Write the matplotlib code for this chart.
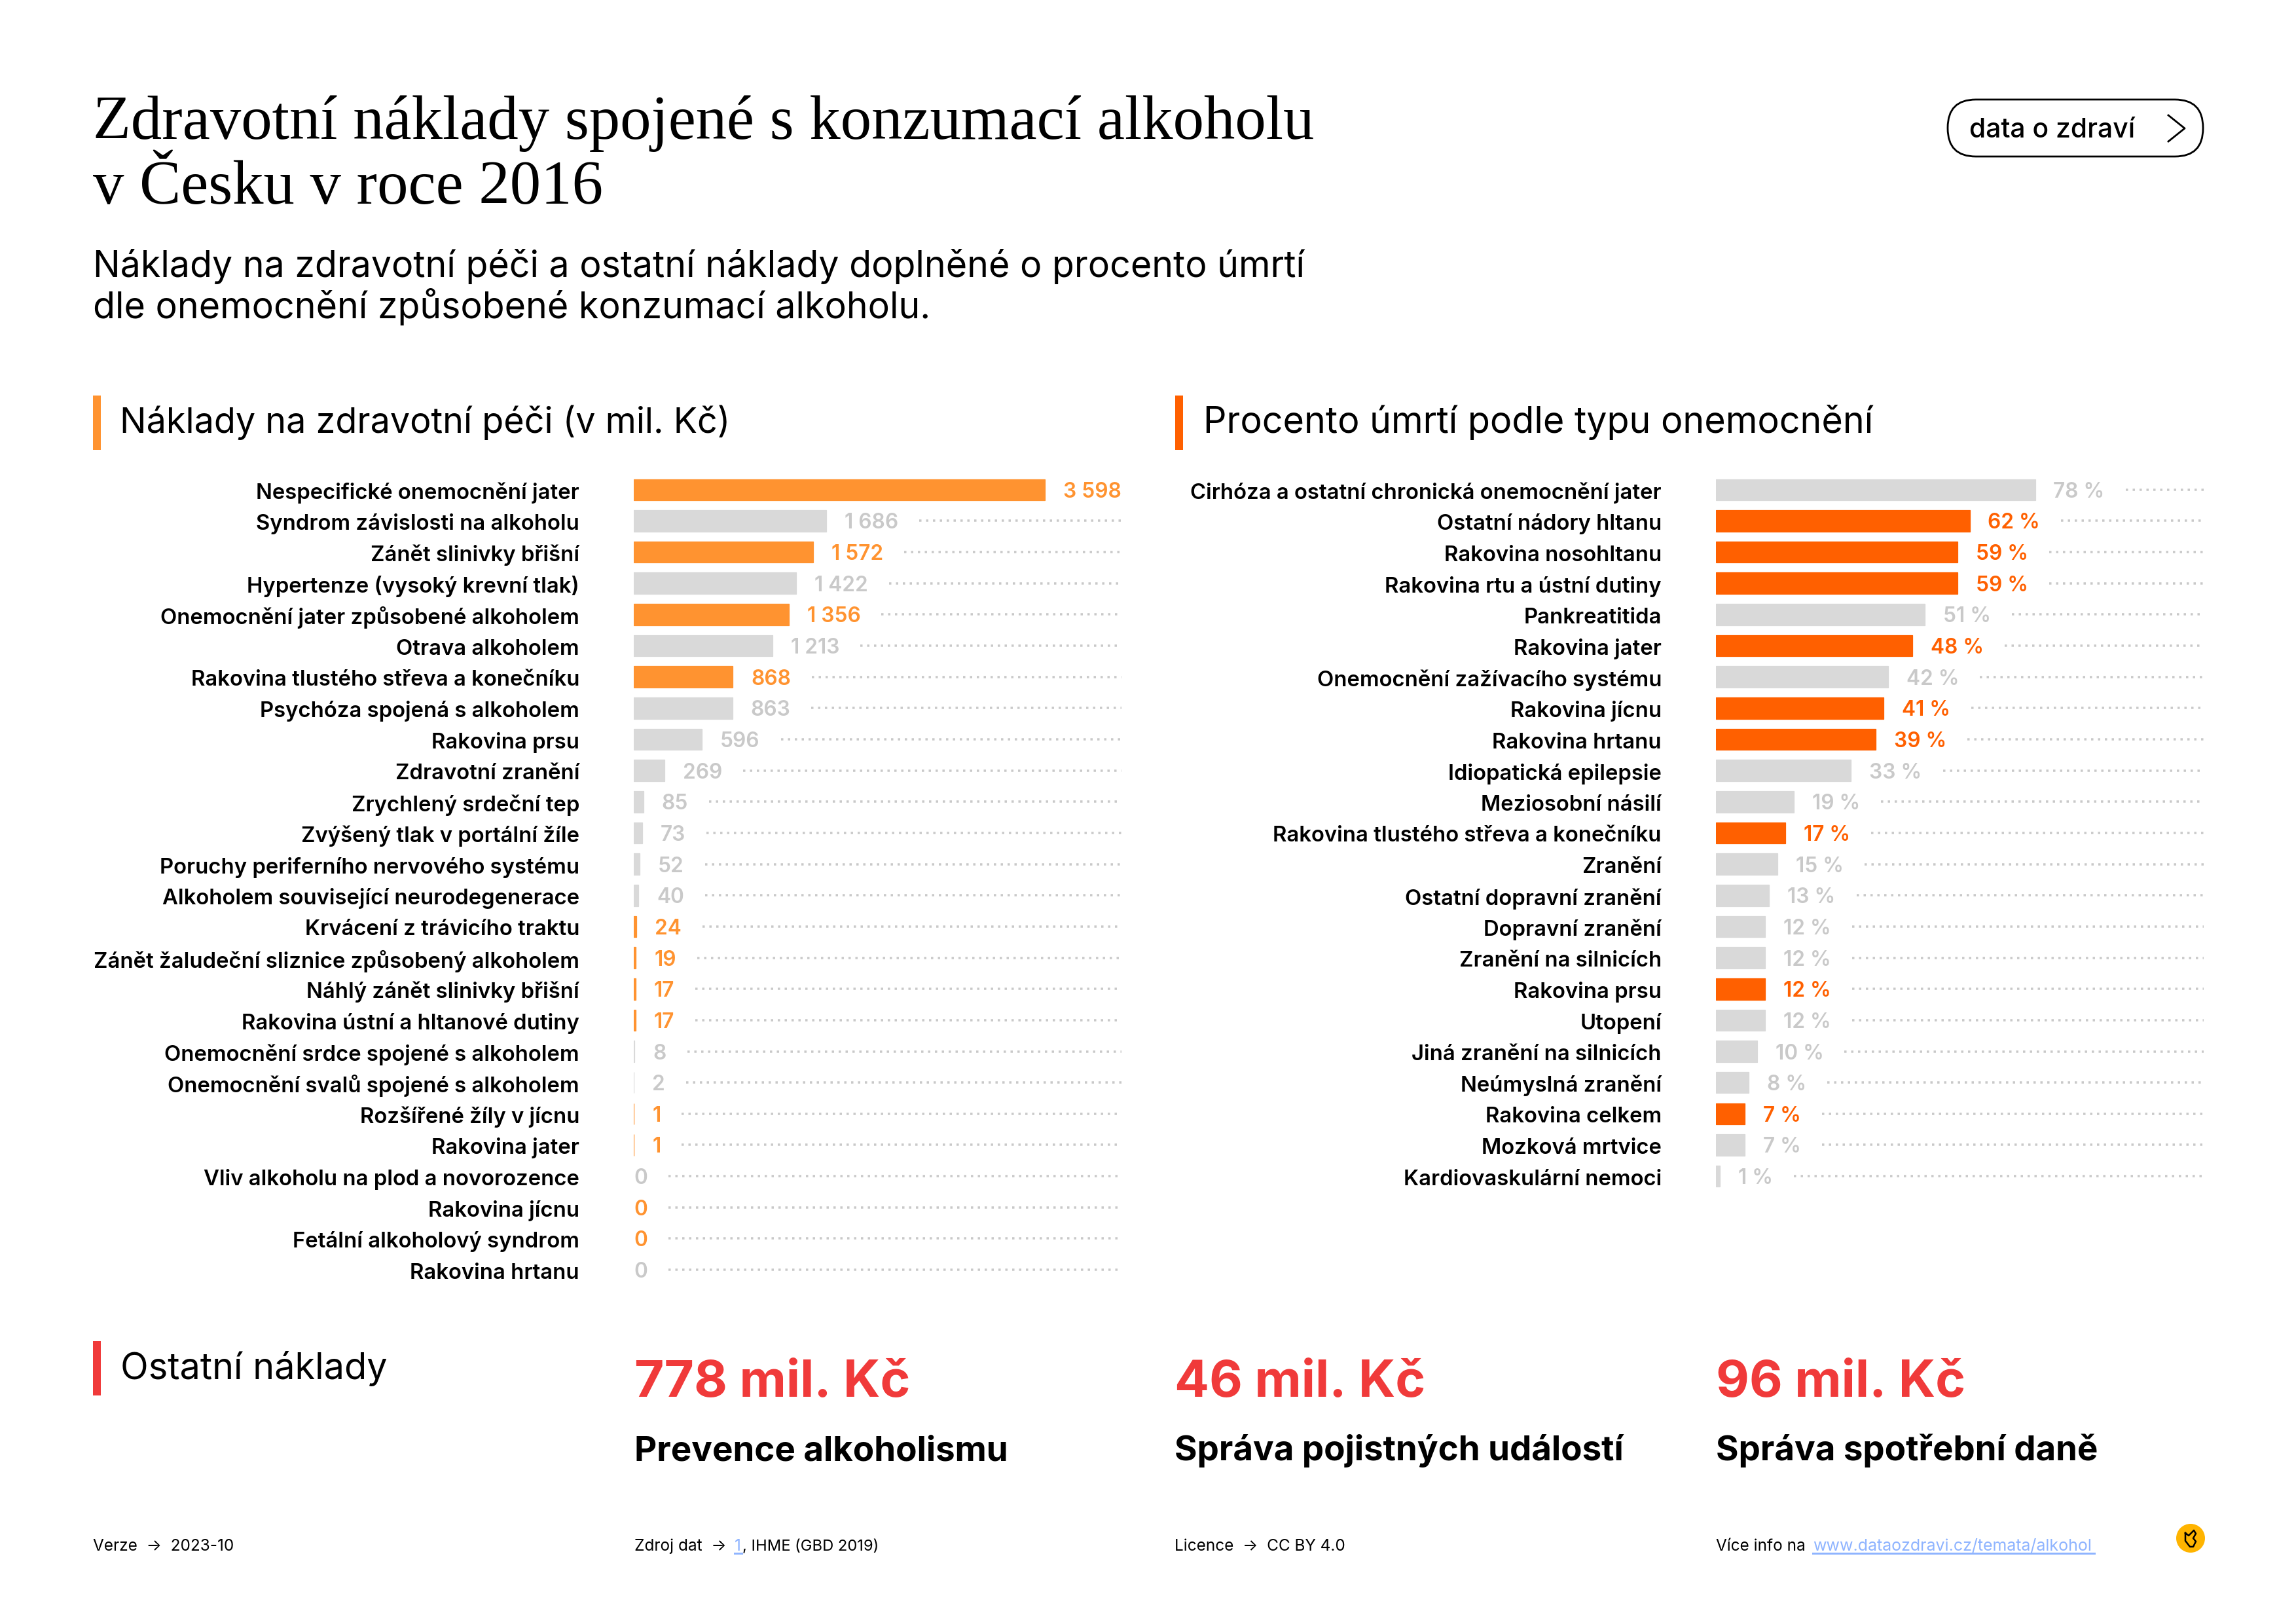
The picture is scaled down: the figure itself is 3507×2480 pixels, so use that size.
"""
Zdravotní náklady spojené s konzumací alkoholu, A4 landscape info sheet.
"""
import matplotlib
matplotlib.use("Agg")
import matplotlib.pyplot as plt
from matplotlib.patches import Circle, FancyBboxPatch, Rectangle
from matplotlib.transforms import ScaledTranslation

plt.rcParams["font.family"] = ["Inter", "DejaVu Sans"]

ORANGE = "#FF9330"
DARK_ORANGE = "#FF6000"
RED = "#F03A3A"
GRAY = "#D9D9D9"
GRAY_TEXT = "#C9C9C9"
LINK = "#8FB4FF"
YELLOW = "#FFB400"
W, H = 3507, 2480
DPI = 300

care_labels = [
    "Nespecifické onemocnění jater", "Syndrom závislosti na alkoholu", "Zánět slinivky břišní",
    "Hypertenze (vysoký krevní tlak)", "Onemocnění jater způsobené alkoholem", "Otrava alkoholem",
    "Rakovina tlustého střeva a konečníku", "Psychóza spojená s alkoholem", "Rakovina prsu",
    "Zdravotní zranění", "Zrychlený srdeční tep", "Zvýšený tlak v portální žíle",
    "Poruchy periferního nervového systému", "Alkoholem související neurodegenerace",
    "Krvácení z trávicího traktu", "Zánět žaludeční sliznice způsobený alkoholem",
    "Náhlý zánět slinivky břišní", "Rakovina ústní a hltanové dutiny",
    "Onemocnění srdce spojené s alkoholem", "Onemocnění svalů spojené s alkoholem",
    "Rozšířené žíly v jícnu", "Rakovina jater", "Vliv alkoholu na plod a novorozence",
    "Rakovina jícnu", "Fetální alkoholový syndrom", "Rakovina hrtanu",
]
care_values = [3598, 1686, 1572, 1422, 1356, 1213, 868, 863, 596, 269, 85, 73, 52, 40,
               24, 19, 17, 17, 8, 2, 1, 1, 0, 0, 0, 0]
care_highlight = [1, 0, 1, 0, 1, 0, 1, 0, 0, 0, 0, 0, 0, 0,
                  1, 1, 1, 1, 0, 0, 1, 1, 0, 1, 1, 0]

death_labels = [
    "Cirhóza a ostatní chronická onemocnění jater", "Ostatní nádory hltanu", "Rakovina nosohltanu",
    "Rakovina rtu a ústní dutiny", "Pankreatitida", "Rakovina jater", "Onemocnění zažívacího systému",
    "Rakovina jícnu", "Rakovina hrtanu", "Idiopatická epilepsie", "Meziosobní násilí",
    "Rakovina tlustého střeva a konečníku", "Zranění", "Ostatní dopravní zranění", "Dopravní zranění",
    "Zranění na silnicích", "Rakovina prsu", "Utopení", "Jiná zranění na silnicích",
    "Neúmyslná zranění", "Rakovina celkem", "Mozková mrtvice", "Kardiovaskulární nemoci",
]
death_values = [78, 62, 59, 59, 51, 48, 42, 41, 39, 33, 19, 17, 15, 13, 12, 12, 12, 12, 10, 8, 7, 7, 1]
death_highlight = [0, 1, 1, 1, 0, 1, 0, 1, 1, 0, 0, 1, 0, 0, 0, 0, 1, 0, 0, 0, 1, 0, 0]

other_amounts = ["778 mil. Kč", "46 mil. Kč", "96 mil. Kč"]
other_labels = ["Prevence alkoholismu", "Správa pojistných událostí", "Správa spotřební daně"]


def pt(px):
    return px * 72 / DPI


def care_text(v):
    return f"{v:,}".replace(",", " ")


def death_text(v):
    return f"{v} %"


def panel(fig, left, labels, values, highlight, color, scale, fmt):
    row = 47.65
    top = 724
    width = 745
    n = len(labels)
    ax = fig.add_axes([left / W, 1 - (top + n * row) / H, width / W, n * row / H])
    ax.set_xlim(0, width / scale)
    ax.set_ylim(n - 0.5, -0.5)
    ax.patch.set_visible(False)
    for s in ax.spines.values():
        s.set_visible(False)
    ax.set_xticks([])
    ax.set_yticks(range(n))
    ax.set_yticklabels(labels, fontsize=7.9, fontweight="semibold", va="center_baseline")
    ax.tick_params(axis="y", length=0, pad=pt(83))
    # labels sit a little under the bar centre
    shift = ScaledTranslation(0, -pt(1.5) / 72, fig.dpi_scale_trans)
    for t in ax.get_yticklabels():
        t.set_transform(t.get_transform() + shift)

    colors = [color if h else GRAY for h in highlight]
    ax.barh(range(n), values, height=0.685, color=colors, edgecolor=colors,
            linewidth=[0.3 if v > 0 else 0 for v in values])

    renderer = fig.canvas.get_renderer()
    for i, v in enumerate(values):
        text = ax.annotate(
            fmt(v), (v, i), xytext=(pt(28) if v > 0 else 0, 0), textcoords="offset points",
            va="center_baseline", ha="left", fontsize=7.6, fontweight="semibold",
            color=color if highlight[i] else GRAY_TEXT,
        )
        end = text.get_window_extent(renderer).x1 + 32 * fig.dpi / DPI
        start = ax.transData.inverted().transform((end, 0))[0]
        if start < width / scale:
            ax.plot([start, width / scale], [i, i], color=GRAY_TEXT, lw=pt(3.5),
                    dashes=(1, 2), dash_capstyle="butt")
    return ax


fig = plt.figure(figsize=(W / DPI, H / DPI), dpi=DPI, facecolor="white")

panel(fig, 968, care_labels, care_values, care_highlight, ORANGE, 0.1745, care_text)
panel(fig, 2621, death_labels, death_values, death_highlight, DARK_ORANGE, 6.25, death_text)

# everything else sits on a full page layer in pixel coordinates
page = fig.add_axes([0, 0, 1, 1], zorder=-1)
page.set_xlim(0, W)
page.set_ylim(H, 0)
page.axis("off")

page.text(142, 212, "Zdravotní náklady spojené s konzumací alkoholu", family="Liberation Serif", fontsize=22.75)
page.text(142, 311, "v Česku v roce 2016", family="Liberation Serif", fontsize=22.75)
page.text(142, 423, "Náklady na zdravotní péči a ostatní náklady doplněné o procento úmrtí", fontsize=13.3)
page.text(142, 486, "dle onemocnění způsobené konzumací alkoholu.", fontsize=13.3)

page.add_patch(FancyBboxPatch((2975, 152), 390, 87, boxstyle="round,pad=0,rounding_size=43",
                              fc="white", ec="black", lw=pt(2.8)))
page.text(3008, 210, "data o zdraví", fontsize=9.8, fontweight="medium")
page.plot([3312, 3337, 3312], [176, 196, 216], color="black", lw=pt(2.8))

for x, c in [(142, ORANGE), (1795, DARK_ORANGE)]:
    page.add_patch(Rectangle((x, 604), 12, 83, color=c, lw=0))
page.text(183, 661, "Náklady na zdravotní péči (v mil. Kč)", fontsize=12.95)
page.text(1838, 661, "Procento úmrtí podle typu onemocnění", fontsize=13.35)

page.add_patch(Rectangle((142, 2048), 12, 83, color=RED, lw=0))
page.text(184, 2106, "Ostatní náklady", fontsize=13.4)
for x, amount, label in zip([969, 1794, 2621], other_amounts, other_labels):
    page.text(x, 2133, amount, color=RED, fontsize=18.8, fontweight="bold")
    page.text(x, 2230, label, fontsize=12.7, fontweight="bold")

page.text(142, 2368, "Verze  →  2023-10", fontsize=5.85)
page.text(969, 2368, "Zdroj dat  →", fontsize=5.85)
page.text(1122, 2368, "1", fontsize=5.85, color=LINK)
page.plot([1122, 1133], [2372, 2372], color=LINK, lw=pt(3))
page.text(1134, 2368, ", IHME (GBD 2019)", fontsize=5.7)
page.text(1794, 2368, "Licence  →  CC BY 4.0", fontsize=5.85)
page.text(2621, 2368, "Více info na", fontsize=5.85)
page.text(2769, 2368, "www.dataozdravi.cz/temata/alkohol", fontsize=6, color=LINK)
page.plot([2769, 3199], [2372, 2372], color=LINK, lw=pt(3))

page.add_patch(Circle((3346, 2349), 22, color=YELLOW, lw=0))
page.plot([3338, 3338, 3345, 3350, 3354, 3350, 3354, 3351, 3343, 3338],
          [2341, 2353, 2362, 2362, 2354, 2349, 2342, 2337, 2345, 2341], color="black", lw=pt(2.5))

fig.savefig("out.png", dpi=DPI)
